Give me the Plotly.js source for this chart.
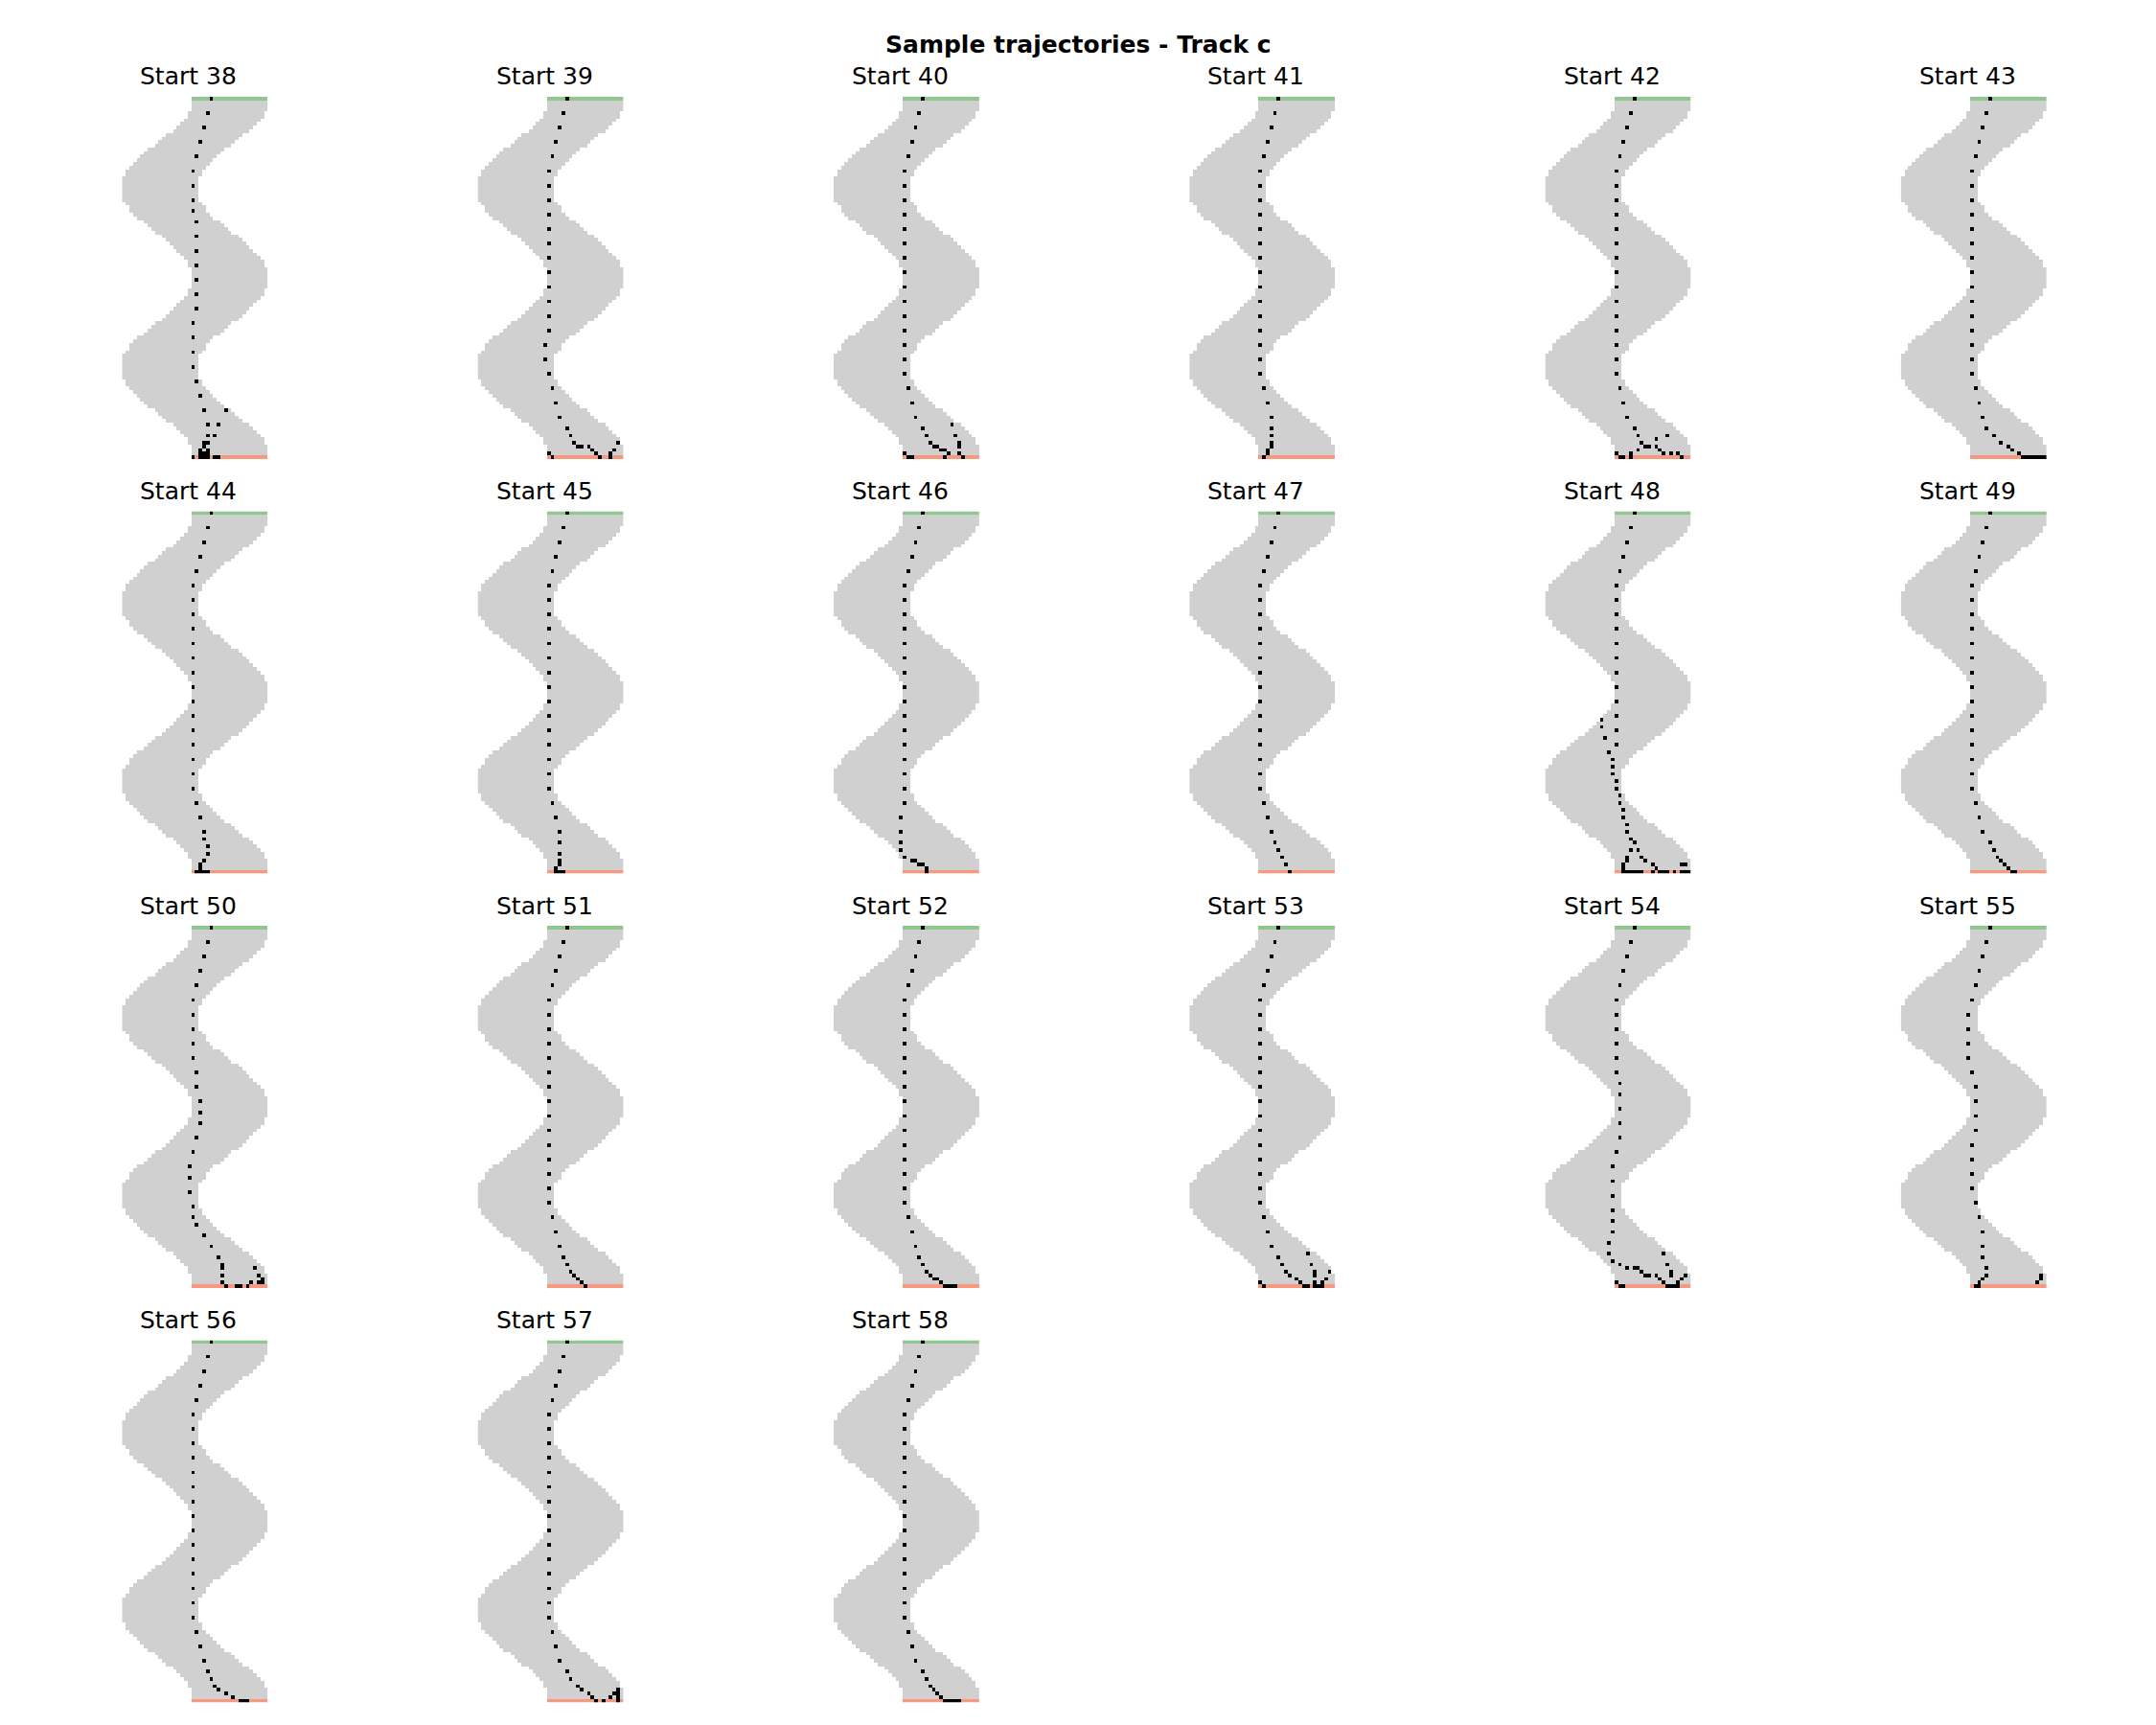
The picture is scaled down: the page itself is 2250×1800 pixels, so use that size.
<!DOCTYPE html>
<html><head><meta charset="utf-8">
<script src="https://cdn.plot.ly/plotly-3.0.1.min.js"></script>
<style>body{margin:0;background:#fff}</style>
</head><body><div id="chart" style="width:2250px;height:1800px"></div>
<script>
// ---------------- DATA ----------------
const figTitle = 'Sample trajectories - Track c';
const nRows = 100, nCols = 40;
// left-most track column for each grid row (track is trackWidth cells wide)
const trackLeft = [19,19,19,19,18,18,17,16,15,14,12,11,10,9,7,6,5,4,3,2,
                   1,1,0,0,0,0,0,0,0,1,2,2,3,4,6,7,8,9,11,12,
                   13,14,15,16,17,18,18,19,19,19,19,19,19,18,18,17,16,15,14,13,
                   12,11,9,8,7,6,4,3,2,2,1,0,0,0,0,0,0,0,1,1,
                   2,3,4,5,6,7,9,10,11,12,14,15,16,17,18,18,19,19,19,19];
const trackWidth = 21;
const startRow = 0;     // green start line
const finishRow = 99;   // red finish line
const startLabels = ['Start 38','Start 39','Start 40','Start 41','Start 42','Start 43',
                     'Start 44','Start 45','Start 46','Start 47','Start 48','Start 49',
                     'Start 50','Start 51','Start 52','Start 53','Start 54','Start 55',
                     'Start 56','Start 57','Start 58'];
// visited cells [row, col]
const traj38 = [[0,24],[4,23],[8,22],[12,21],[16,20],[20,19],[24,19],[28,19],[31,19],[34,20],[38,20],[42,20],[46,20],[50,20],[54,20],[58,20],[62,19],[66,19],[70,19],[74,19],[78,20],[82,21],[86,22],[90,23],[93,23],[95,22],[95,23],[96,22],[97,21],[97,23],[98,21],[98,22],[98,23],[99,19],[99,21],[99,22],[99,23],[99,25],[99,26],[86,28],[90,26],[93,25]];
const traj39 = [[0,24],[4,23],[8,22],[12,21],[16,20],[20,19],[24,19],[28,19],[32,19],[36,19],[40,19],[44,19],[48,19],[52,19],[56,19],[60,19],[64,19],[68,18],[72,18],[76,19],[80,20],[84,21],[88,22],[91,24],[93,25],[95,26],[96,27],[96,28],[96,30],[97,31],[98,32],[99,33],[98,36],[99,36],[97,37],[95,38],[98,19],[99,20]];
const traj40 = [[0,24],[4,23],[8,22],[12,21],[16,20],[20,19],[24,19],[28,19],[32,19],[36,19],[40,19],[44,19],[48,19],[52,19],[56,19],[60,19],[64,19],[68,19],[72,19],[76,19],[80,20],[84,21],[88,22],[91,24],[93,25],[95,26],[96,27],[96,28],[97,29],[97,30],[98,31],[98,19],[99,20],[99,21],[99,30],[99,35],[90,32],[93,33],[95,34],[96,34],[98,34]];
const traj41 = [[0,24],[4,23],[8,22],[12,21],[16,20],[20,19],[24,19],[28,19],[32,19],[36,19],[40,19],[44,19],[48,19],[52,19],[56,19],[60,19],[64,19],[68,19],[72,19],[76,19],[80,20],[84,21],[88,22],[91,22],[93,22],[95,22],[96,22],[97,21],[98,21],[99,20]];
const traj42 = [[0,24],[4,23],[8,22],[12,21],[16,20],[20,19],[24,19],[28,19],[32,19],[36,19],[40,19],[44,19],[48,19],[52,19],[56,19],[60,19],[64,19],[68,19],[72,19],[76,19],[80,20],[84,21],[88,22],[91,24],[93,25],[95,26],[96,27],[96,28],[97,25],[98,23],[99,23],[98,19],[99,20],[99,21],[93,33],[94,30],[96,30],[97,31],[98,32],[98,34],[98,36],[99,37]];
const traj43 = [[0,24],[4,23],[8,22],[12,21],[16,20],[20,19],[24,19],[28,19],[32,19],[36,19],[40,19],[44,19],[48,19],[52,19],[56,19],[60,19],[64,19],[68,19],[72,19],[76,19],[80,20],[84,21],[88,22],[91,23],[93,25],[95,27],[96,29],[97,30],[98,32],[99,33],[99,34],[99,35],[99,36],[99,37],[99,38],[99,39]];
const traj44 = [[0,24],[4,23],[8,22],[12,21],[16,20],[20,19],[24,19],[28,19],[32,19],[36,19],[40,19],[44,19],[48,19],[52,19],[56,19],[60,19],[64,19],[68,19],[72,19],[76,19],[80,20],[84,21],[88,22],[90,22],[92,23],[94,23],[96,22],[97,21],[98,21],[99,20],[99,21],[99,22],[99,23]];
const traj45 = [[0,24],[4,23],[8,22],[12,21],[16,20],[20,19],[24,19],[28,19],[32,19],[36,19],[40,19],[44,19],[48,19],[52,19],[56,19],[60,19],[64,19],[68,19],[72,19],[76,19],[80,20],[84,21],[88,22],[91,22],[94,22],[96,22],[97,22],[98,21],[99,21],[99,22],[99,23]];
const traj46 = [[0,24],[4,23],[8,22],[12,21],[16,20],[20,19],[24,19],[28,19],[32,19],[36,19],[40,19],[44,19],[48,19],[52,19],[56,19],[60,19],[64,19],[68,19],[72,19],[76,19],[80,19],[84,18],[88,18],[91,18],[93,18],[95,19],[96,21],[96,22],[97,23],[97,24],[98,25],[99,25]];
const traj47 = [[0,24],[4,23],[8,22],[12,21],[16,20],[20,19],[24,19],[28,19],[32,19],[36,19],[40,19],[44,19],[48,19],[52,19],[56,19],[60,19],[64,19],[68,19],[72,19],[76,19],[80,20],[84,21],[88,22],[91,23],[93,24],[95,25],[97,26],[99,27]];
const traj48 = [[0,24],[4,23],[8,22],[12,21],[16,20],[20,19],[24,19],[28,19],[32,19],[36,19],[40,19],[44,19],[48,19],[52,19],[56,19],[60,19],[64,19],[57,15],[59,15],[62,16],[66,17],[68,18],[70,18],[72,18],[74,19],[76,19],[78,20],[80,20],[82,21],[84,21],[86,22],[88,22],[90,23],[91,24],[93,23],[93,25],[95,22],[96,22],[95,26],[96,27],[97,29],[97,21],[98,21],[98,30],[97,37],[97,38],[99,21],[99,22],[99,23],[99,24],[99,25],[99,26],[99,29],[99,31],[99,32],[99,33],[99,35],[99,37],[99,38],[99,39]];
const traj49 = [[0,24],[4,23],[8,22],[12,21],[16,20],[20,19],[24,19],[28,19],[32,19],[36,19],[40,19],[44,19],[48,19],[52,19],[56,19],[60,19],[64,19],[68,19],[72,19],[76,19],[80,20],[84,21],[88,22],[91,24],[93,25],[95,26],[96,27],[97,28],[98,29],[99,30],[99,31]];
const traj50 = [[0,24],[4,23],[8,22],[12,21],[16,20],[20,19],[24,19],[28,19],[32,19],[36,19],[40,20],[44,20],[48,21],[51,21],[54,21],[58,20],[62,19],[66,18],[69,18],[73,18],[77,19],[80,19],[82,20],[85,22],[88,24],[91,26],[93,27],[94,27],[96,27],[98,27],[99,28],[99,31],[99,32],[99,34],[94,36],[96,37],[98,35],[98,37],[98,38],[97,38]];
const traj51 = [[0,24],[4,23],[8,22],[12,21],[16,20],[20,19],[24,19],[28,19],[32,19],[36,19],[40,19],[44,19],[48,19],[52,19],[56,19],[60,19],[64,19],[68,19],[72,19],[76,19],[80,20],[84,21],[88,22],[91,23],[93,24],[95,25],[96,26],[97,27],[98,28],[99,29]];
const traj52 = [[0,24],[4,23],[8,22],[12,21],[16,20],[20,19],[24,19],[28,19],[32,19],[36,19],[40,19],[44,19],[48,19],[52,19],[56,19],[60,19],[64,19],[68,19],[72,19],[76,19],[80,20],[84,21],[88,22],[91,23],[93,24],[95,25],[96,26],[97,27],[97,28],[98,29],[99,30],[99,31],[99,32],[99,33]];
const traj53 = [[0,24],[4,23],[8,22],[12,21],[16,20],[20,19],[24,19],[28,19],[32,19],[36,19],[40,19],[44,19],[48,19],[52,19],[56,19],[60,19],[64,19],[68,19],[72,19],[76,19],[80,20],[84,21],[88,22],[91,24],[93,25],[95,26],[96,27],[97,29],[98,30],[99,31],[99,32],[98,19],[99,20],[90,32],[93,33],[95,34],[96,34],[98,34],[99,34],[99,35],[99,36],[98,36],[97,37],[95,38]];
const traj54 = [[0,24],[4,23],[8,22],[12,21],[16,20],[20,19],[24,19],[28,19],[32,19],[36,19],[40,19],[43,20],[46,20],[50,20],[54,20],[58,20],[62,19],[66,18],[70,18],[74,18],[78,18],[81,18],[84,18],[87,17],[90,17],[92,18],[93,20],[94,22],[94,24],[94,25],[95,26],[96,27],[96,28],[96,30],[97,31],[98,32],[99,33],[99,34],[99,35],[99,36],[95,34],[96,34],[93,33],[90,32],[98,36],[97,37],[96,38],[98,19],[99,20],[99,21]];
const traj55 = [[0,24],[4,23],[8,22],[12,21],[16,20],[20,19],[24,18],[28,18],[32,18],[36,18],[40,19],[44,20],[48,20],[52,20],[56,20],[60,19],[64,19],[68,19],[72,19],[76,20],[80,21],[84,22],[88,22],[91,22],[94,23],[96,23],[97,22],[98,21],[99,20],[99,21],[96,38],[97,38],[98,37]];
const traj56 = [[0,24],[4,23],[8,22],[12,21],[16,20],[20,19],[24,19],[28,19],[32,19],[36,19],[40,19],[44,19],[48,19],[52,19],[56,19],[60,19],[64,19],[68,19],[72,19],[76,19],[80,20],[84,21],[88,22],[91,23],[93,24],[95,25],[96,26],[97,28],[98,30],[99,32],[99,33],[99,34]];
const traj57 = [[0,24],[4,23],[8,22],[12,21],[16,20],[20,19],[24,19],[28,19],[32,19],[36,19],[40,19],[44,19],[48,19],[52,19],[56,19],[60,19],[64,19],[68,19],[72,19],[76,19],[80,20],[84,21],[88,22],[91,24],[93,25],[95,27],[96,28],[97,30],[98,31],[99,32],[99,34],[98,36],[97,37],[96,38],[97,38],[98,38],[99,38]];
const traj58 = [[0,24],[4,23],[8,22],[12,21],[16,20],[20,19],[24,19],[28,19],[32,19],[36,19],[40,19],[44,19],[48,19],[52,19],[56,19],[60,19],[64,19],[68,19],[72,19],[76,19],[80,20],[84,21],[88,22],[91,24],[93,25],[95,26],[96,27],[97,28],[98,29],[99,30],[99,31],[99,32],[99,33],[99,34]];

const trajectories = [traj38,traj39,traj40,traj41,traj42,traj43,traj44,traj45,traj46,traj47,
                      traj48,traj49,traj50,traj51,traj52,traj53,traj54,traj55,traj56,traj57,traj58];

// ---------------- STYLE / LAYOUT ----------------
const W = 2250, H = 1800;
const colGray = '#d0d0d0', colGreen = '#8fc78f', colRed = '#f9977f', colBlack = '#000000';
const font = 'DejaVu Sans, Liberation Sans, sans-serif';
const axLeft0 = 127.3, axPitchX = 371.3, axW = 152;
const axTop0 = 101, axPitchY = 432.5, axH = 378;
const nGridCols = 6;

function buildGrid(traj) {
  const z = [];
  for (let r = 0; r < nRows; r++) {
    const row = new Array(nCols).fill(null);
    for (let c = trackLeft[r]; c < trackLeft[r] + trackWidth && c < nCols; c++) {
      row[c] = (r === startRow) ? 2 : (r === finishRow ? 3 : 1);
    }
    z.push(row);
  }
  traj.forEach(p => { if (p[0] >= 0 && p[0] < nRows && p[1] >= 0 && p[1] < nCols) z[p[0]][p[1]] = 4; });
  return z;
}

const colorscale = [[0,colGray],[0.1667,colGray],[0.1667,colGreen],[0.5,colGreen],
                    [0.5,colRed],[0.8333,colRed],[0.8333,colBlack],[1,colBlack]];

const data = [];
const layout = {
  width: W, height: H,
  margin: {l:0, r:0, t:0, b:0},
  paper_bgcolor: '#ffffff', plot_bgcolor: 'rgba(0,0,0,0)',
  showlegend: false,
  annotations: [{
    text: '<b>' + figTitle + '</b>', xref:'paper', yref:'paper',
    x: 0.5, y: 1 - 46/H, xanchor:'center', yanchor:'middle', showarrow:false,
    font: {family: font, size: 25, color:'#000'}
  }]
};

trajectories.forEach((traj, k) => {
  const i = Math.floor(k / nGridCols), j = k % nGridCols;
  const x0 = axLeft0 + axPitchX * j, y0 = axTop0 + axPitchY * i;
  const sfx = k === 0 ? '' : String(k + 1);
  data.push({
    type: 'heatmap', z: buildGrid(traj),
    xaxis: 'x' + sfx, yaxis: 'y' + sfx,
    zmin: 1, zmax: 4, colorscale: colorscale, showscale: false,
    hoverinfo: 'skip', zsmooth: false
  });
  layout['xaxis' + sfx] = {domain:[x0/W, (x0+axW)/W], range:[-0.5, nCols-0.5], visible:false,
                           fixedrange:true, anchor:'y' + sfx};
  layout['yaxis' + sfx] = {domain:[1-(y0+axH)/H, 1-y0/H], range:[nRows-0.5, -0.5], visible:false,
                           fixedrange:true, anchor:'x' + sfx};
  layout.annotations.push({
    text: startLabels[k], xref:'paper', yref:'paper',
    x: (x0 + 69.5)/W, y: 1 - (y0 - 21)/H, xanchor:'center', yanchor:'middle', showarrow:false,
    font: {family: font, size: 25, color:'#000'}
  });
});

Plotly.newPlot('chart', data, layout, {staticPlot:true, displayModeBar:false});
</script>
</body></html>
